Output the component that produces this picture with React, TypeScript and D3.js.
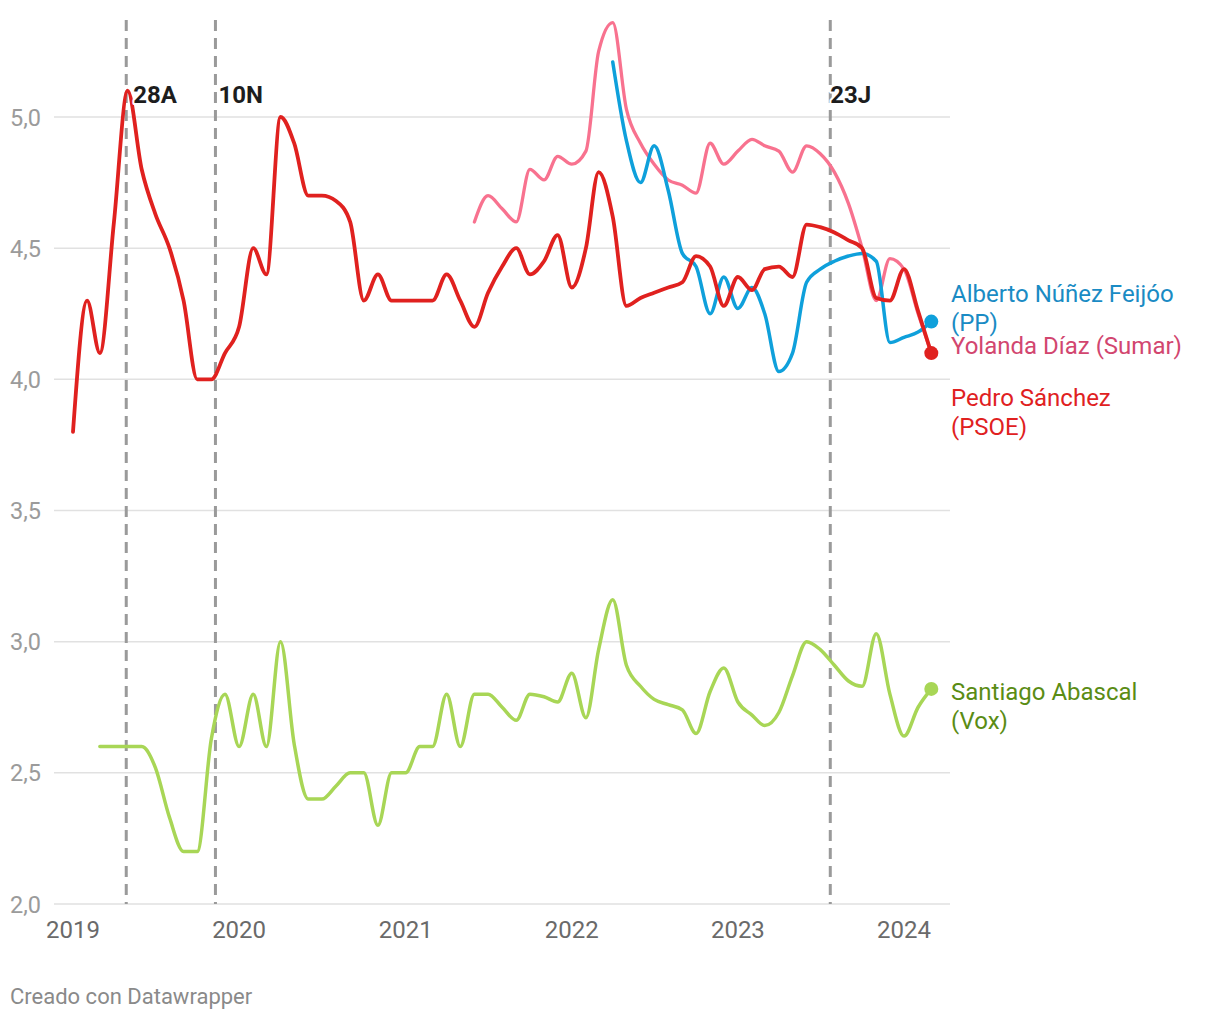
import React from "react";
import * as d3 from "d3";

const sanchezMonths = [
  "2019-01","2019-02","2019-03","2019-04","2019-05","2019-06","2019-07","2019-08","2019-09","2019-10","2019-11","2019-12",
  "2020-01","2020-02","2020-03","2020-04","2020-05","2020-06","2020-07","2020-08","2020-09","2020-10","2020-11","2020-12",
  "2021-01","2021-02","2021-03","2021-04","2021-05","2021-06","2021-07","2021-08","2021-09","2021-10","2021-11","2021-12",
  "2022-01","2022-02","2022-03","2022-04","2022-05","2022-06","2022-07","2022-08","2022-09","2022-10","2022-11","2022-12",
  "2023-01","2023-02","2023-03","2023-04","2023-05","2023-06","2023-07","2023-08","2023-09","2023-10","2023-11","2023-12",
  "2024-01","2024-02","2024-03",
];
const sanchezValues = [
  3.8, 4.3, 4.1, 4.6, 5.1, 4.8, 4.63, 4.5, 4.3, 4.0, 4.0, 4.1,
  4.2, 4.5, 4.4, 5.0, 4.9, 4.7, 4.7, 4.68, 4.6, 4.3, 4.4, 4.3,
  4.3, 4.3, 4.3, 4.4, 4.3, 4.2, 4.33, 4.43, 4.5, 4.4, 4.45, 4.55,
  4.35, 4.5, 4.79, 4.62, 4.28, 4.31, 4.33, 4.35, 4.37, 4.47, 4.43, 4.28,
  4.39, 4.34, 4.42, 4.43, 4.39, 4.59, 4.58, 4.56, 4.53, 4.5, 4.31, 4.3,
  4.42, 4.26, 4.1,
];

const diazMonths = [
  "2021-06","2021-07","2021-08","2021-09","2021-10","2021-11","2021-12",
  "2022-01","2022-02","2022-03","2022-04","2022-05","2022-06","2022-07","2022-08","2022-09","2022-10","2022-11","2022-12",
  "2023-01","2023-02","2023-03","2023-04","2023-05","2023-06","2023-07","2023-08","2023-09","2023-10","2023-11","2023-12",
  "2024-01","2024-02","2024-03",
];
const diazValues = [
  4.6, 4.7, 4.65, 4.6, 4.8, 4.76, 4.85,
  4.82, 4.87, 5.25, 5.36, 5.03, 4.9, 4.82, 4.76, 4.74, 4.71, 4.9, 4.82,
  4.87, 4.915, 4.89, 4.87, 4.79, 4.89, 4.86, 4.79, 4.67, 4.5, 4.3, 4.46,
  4.42, 4.25, 4.1,
];

const feijooMonths = [
  "2022-04","2022-05","2022-06","2022-07","2022-08","2022-09","2022-10","2022-11","2022-12",
  "2023-01","2023-02","2023-03","2023-04","2023-05","2023-06","2023-07","2023-08","2023-09","2023-10","2023-11","2023-12",
  "2024-01","2024-02","2024-03",
];
const feijooValues = [
  5.21, 4.91, 4.75, 4.89, 4.72, 4.48, 4.43, 4.25, 4.39,
  4.27, 4.35, 4.25, 4.03, 4.1, 4.37, 4.42, 4.45, 4.47, 4.48, 4.45, 4.14,
  4.16, 4.18, 4.22,
];

const abascalMonths = [
  "2019-03","2019-04","2019-05","2019-06","2019-07","2019-08","2019-09","2019-10","2019-11","2019-12",
  "2020-01","2020-02","2020-03","2020-04","2020-05","2020-06","2020-07","2020-08","2020-09","2020-10","2020-11","2020-12",
  "2021-01","2021-02","2021-03","2021-04","2021-05","2021-06","2021-07","2021-08","2021-09","2021-10","2021-11","2021-12",
  "2022-01","2022-02","2022-03","2022-04","2022-05","2022-06","2022-07","2022-08","2022-09","2022-10","2022-11","2022-12",
  "2023-01","2023-02","2023-03","2023-04","2023-05","2023-06","2023-07","2023-08","2023-09","2023-10","2023-11","2023-12",
  "2024-01","2024-02","2024-03",
];
const abascalValues = [
  2.6, 2.6, 2.6, 2.6, 2.52, 2.33, 2.2, 2.2, 2.63, 2.8,
  2.6, 2.8, 2.6, 3.0, 2.61, 2.4, 2.4, 2.45, 2.5, 2.5, 2.3, 2.5,
  2.5, 2.6, 2.6, 2.8, 2.6, 2.8, 2.8, 2.75, 2.7, 2.8, 2.79, 2.77,
  2.88, 2.71, 2.97, 3.16, 2.91, 2.83, 2.78, 2.76, 2.74, 2.65, 2.81, 2.9,
  2.77, 2.72, 2.68, 2.73, 2.87, 3.0, 2.97, 2.91, 2.85, 2.83, 3.03, 2.8,
  2.64, 2.75, 2.82,
];

const yTicks = [2.0, 2.5, 3.0, 3.5, 4.0, 4.5, 5.0];
const xTickYears = ["2019", "2020", "2021", "2022", "2023", "2024"];
const electionDates = ["2019-04-28", "2019-11-10", "2023-07-23"];
const electionLabels = ["28A", "10N", "23J"];

const parseMonth = d3.timeParse("%Y-%m");
const parseDay = d3.timeParse("%Y-%m-%d");
const parseYear = d3.timeParse("%Y");

const series = [
  { key: "diaz", months: diazMonths, values: diazValues, color: "#f8728f", width: 3.3, dot: false,
    labelLines: ["Yolanda Díaz (Sumar)"], labelColor: "#d2466f", labelY: 354 },
  { key: "feijoo", months: feijooMonths, values: feijooValues, color: "#0fa0db", width: 3.5, dot: true,
    labelLines: ["Alberto Núñez Feijóo", "(PP)"], labelColor: "#1a8bc4", labelY: 302 },
  { key: "sanchez", months: sanchezMonths, values: sanchezValues, color: "#e0211f", width: 3.8, dot: true,
    labelLines: ["Pedro Sánchez", "(PSOE)"], labelColor: "#e0211f", labelY: 406 },
  { key: "abascal", months: abascalMonths, values: abascalValues, color: "#a8d656", width: 3.5, dot: true,
    labelLines: ["Santiago Abascal", "(Vox)"], labelColor: "#5a8c14", labelY: 700 },
];

const FONT = "Roboto, 'Noto Sans', sans-serif";
const labelDx = [7, 3, 0];

export default function App() {
  const W = 1220, H = 1020;
  const x = d3.scaleTime()
    .domain([parseYear("2019") as Date, parseYear("2024") as Date])
    .range([73, 904]);
  const y = d3.scaleLinear().domain([2, 5]).range([904, 117]);
  const line = d3.line<{ d: Date; v: number }>()
    .x((p) => x(p.d))
    .y((p) => y(p.v))
    .curve(d3.curveMonotoneX);

  return (
    <div style={{ position: "absolute", left: 0, top: 0 }}>
      <svg width={W} height={H} style={{ display: "block", background: "#fff" }} fontFamily={FONT}>
        {yTicks.map((t) => (
          <g key={t}>
            <line x1={54} x2={950} y1={y(t)} y2={y(t)} stroke="#e1e1e1" strokeWidth={1.5} />
            <text x={10} y={y(t) + 8.5} fontSize={23.5} fill="#9b9b9b">
              {d3.format(".1f")(t).replace(".", ",")}
            </text>
          </g>
        ))}
        {xTickYears.map((yr) => (
          <text key={yr} x={x(parseYear(yr) as Date)} y={938} fontSize={24} fill="#6a6a6a" textAnchor="middle">
            {yr}
          </text>
        ))}
        {electionDates.map((e) => {
          const ex = x(parseDay(e) as Date);
          return (
            <line key={e} x1={ex} x2={ex} y1={20} y2={904} stroke="#9a9a9a" strokeWidth={3} strokeDasharray="11,7" />
          );
        })}
        {series.map((s) => {
          const pts = s.months.map((m, i) => ({ d: parseMonth(m) as Date, v: s.values[i] }));
          return (
            <path key={s.key} d={line(pts) || ""} fill="none" stroke={s.color} strokeWidth={s.width}
              strokeLinejoin="round" strokeLinecap="round" />
          );
        })}
        {series.filter((s) => s.dot).map((s) => {
          const n = s.months.length - 1;
          const px = x(parseMonth(s.months[n]) as Date);
          const py = y(s.values[n]);
          return <circle key={s.key + "-dot"} cx={px} cy={py} r={7} fill={s.color} />;
        })}
        {electionDates.map((e, i) => {
          const ex = x(parseDay(e) as Date);
          return (
            <text key={e + "-t"} x={ex + labelDx[i]} y={103} fontSize={24} fontWeight={700} fill="#1d1d1d"
              stroke="#fff" strokeWidth={4} paintOrder="stroke" strokeLinejoin="round">
              {electionLabels[i]}
            </text>
          );
        })}
        {series.map((s) => (
          <text key={s.key + "-lab"} x={951} y={s.labelY} fontSize={24} fill={s.labelColor}>
            {s.labelLines.map((l, i) => (
              <tspan key={i} x={951} dy={i === 0 ? 0 : 29}>{l}</tspan>
            ))}
          </text>
        ))}
        <text x={10} y={1004} fontSize={22} fill="#8a8a8a">Creado con Datawrapper</text>
      </svg>
    </div>
  );
}
